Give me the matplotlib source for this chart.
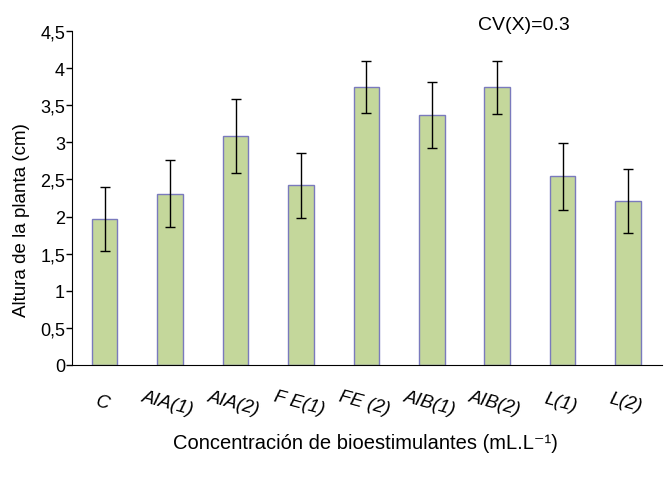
import matplotlib.pyplot as plt
import numpy as np

plt.rcParams['font.family'] = ['Liberation Sans', 'DejaVu Sans']

# data
tratamientos = ['C', 'AIA(1)', 'AIA(2)', 'F E(1)', 'FE (2)', 'AIB(1)', 'AIB(2)', 'L(1)', 'L(2)']
altura = [1.97, 2.31, 3.09, 2.42, 3.74, 3.37, 3.74, 2.54, 2.21]
error = [0.43, 0.45, 0.50, 0.44, 0.35, 0.44, 0.36, 0.45, 0.43]
yticks = [0, 0.5, 1, 1.5, 2, 2.5, 3, 3.5, 4, 4.5]
ytick_labels = ['0', '0,5', '1', '1,5', '2', '2,5', '3', '3,5', '4', '4,5']

fig = plt.figure(figsize=(6.65, 4.81), dpi=100)
ax = fig.add_axes([72 / 665, 1 - 366 / 481, 590 / 665, 334 / 481])

x = np.arange(len(tratamientos))
ax.bar(x, altura, width=0.39, color='#c4d79b', edgecolor='#7a7abd', linewidth=1.0,
       yerr=error, capsize=3.5, error_kw={'elinewidth': 1.0, 'ecolor': 'black', 'capthick': 1.0})

ax.set_xlim(-0.5, 8.52)
ax.set_ylim(0, 4.5)
ax.set_yticks(yticks)
ax.set_yticklabels(ytick_labels, fontsize=13)
ax.set_xticks(x)
ax.set_xticklabels(tratamientos, fontsize=13.5, style='italic', rotation=-15,
                   rotation_mode='anchor', ha='center', va='top')
ax.tick_params(axis='x', length=0, pad=21)
ax.tick_params(axis='y', direction='out', length=4, width=1, pad=1)

ax.spines['top'].set_visible(False)
ax.spines['right'].set_visible(False)

ax.set_ylabel('Altura de la planta (cm)', fontsize=13.5)
ax.yaxis.set_label_coords(-(72 - 30) / 590, (366 - 220) / 334)
ax.set_xlabel('Concentración de bioestimulantes (mL.L⁻¹)', fontsize=14.5)
ax.xaxis.set_label_coords((365 - 72) / 590, -(434 - 366) / 334)

fig.text(524 / 665, 1 - 25 / 481, 'CV(X)=0.3', fontsize=14, ha='center', va='center')

fig.savefig('out.png', dpi=100)
